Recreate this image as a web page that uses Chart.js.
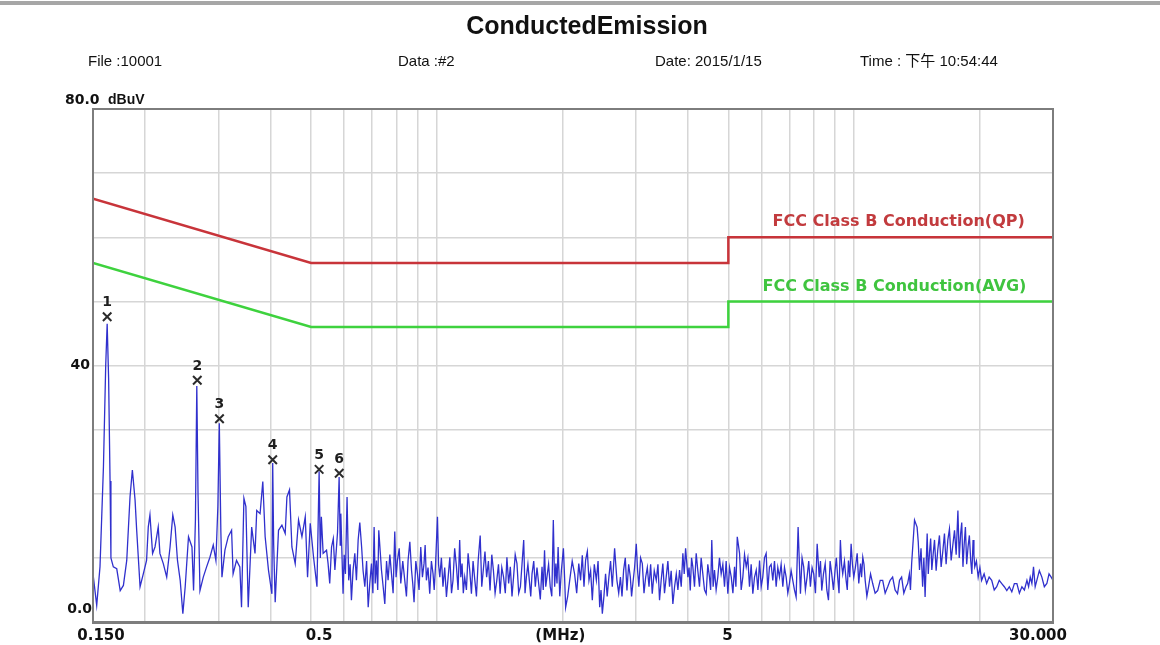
<!DOCTYPE html>
<html>
<head>
<meta charset="utf-8">
<script src="https://cdn.jsdelivr.net/npm/chart.js@4.4.1/dist/chart.umd.min.js"></script>
<style>
  html, body { margin: 0; padding: 0; background: #fff; }
  #wrap { width: 1160px; height: 645px; }
</style>
</head>
<body>
<div id="wrap"><canvas id="ce" width="1160" height="645"></canvas></div>
<script>
// measured trace, MHz / dBuV
const traceFreq = [
  0.1500, 0.1531, 0.1559, 0.1589, 0.1609, 0.1622, 0.1635, 0.1648, 0.1656, 0.1678,
  0.1710, 0.1743, 0.1774, 0.1807, 0.1840, 0.1864, 0.1892, 0.1909, 0.1945, 0.1980,
  0.2016, 0.2035, 0.2054, 0.2084, 0.2112, 0.2150, 0.2170, 0.2211, 0.2253, 0.2295,
  0.2330, 0.2360, 0.2391, 0.2427, 0.2463, 0.2495, 0.2541, 0.2590, 0.2613, 0.2640,
  0.2660, 0.2678, 0.2707, 0.2757, 0.2808, 0.2860, 0.2913, 0.2956, 0.2988, 0.3012,
  0.3038, 0.3056, 0.3107, 0.3164, 0.3223, 0.3250, 0.3312, 0.3373, 0.3405, 0.3450,
  0.3488, 0.3533, 0.3601, 0.3668, 0.3703, 0.3772, 0.3829, 0.3879, 0.3951, 0.4026,
  0.4044, 0.4066, 0.4100, 0.4176, 0.4255, 0.4333, 0.4374, 0.4437, 0.4496, 0.4579,
  0.4664, 0.4752, 0.4840, 0.4902, 0.4975, 0.5067, 0.5163, 0.5225, 0.5260, 0.5290,
  0.5342, 0.5443, 0.5490, 0.5596, 0.5700, 0.5784, 0.5835, 0.5870, 0.5890, 0.5963,
  0.6042, 0.6096, 0.6152, 0.6245, 0.6363, 0.6481, 0.6606, 0.6724, 0.6850, 0.6975,
  0.7078, 0.7171, 0.7262, 0.7371, 0.7508, 0.7645, 0.7790, 0.7932, 0.8051, 0.8200,
  0.8382, 0.8537, 0.8700, 0.8823, 0.8991, 0.9156, 0.9322, 0.9446, 0.9620, 0.9799,
  0.9930, 1.004, 1.017, 1.035, 1.055, 1.075, 1.094, 1.115, 1.135, 1.150,
  1.167, 1.189, 1.211, 1.234, 1.257, 1.271, 1.293, 1.317, 1.342, 1.367,
  1.393, 1.419, 1.446, 1.473, 1.501, 1.528, 1.557, 1.587, 1.616, 1.640,
  1.667, 1.692, 1.723, 1.755, 1.788, 1.813, 1.837, 1.871, 1.903, 1.930,
  1.954, 1.990, 2.012, 2.025, 2.037, 2.083, 2.140, 2.190, 2.233, 2.274,
  2.317, 2.360, 2.413, 2.458, 2.494, 2.539, 2.586, 2.635, 2.669, 2.703,
  2.756, 2.805, 2.857, 2.911, 2.952, 3.008, 3.051, 3.110, 3.168, 3.227,
  3.285, 3.359, 3.420, 3.483, 3.548, 3.614, 3.681, 3.751, 3.820, 3.890,
  3.949, 3.999, 4.052, 4.110, 4.187, 4.264, 4.343, 4.424, 4.505, 4.563,
  4.632, 4.717, 4.806, 4.895, 4.986, 5.081, 5.174, 5.252, 5.319, 5.416,
  5.518, 5.619, 5.723, 5.832, 5.940, 6.046, 6.160, 6.273, 6.390, 6.510,
  6.629, 6.753, 6.879, 7.005, 7.135, 7.268, 7.348, 7.443, 7.578, 7.720,
  7.864, 8.010, 8.163, 8.254, 8.372, 8.533, 8.688, 8.846, 9.012, 9.141,
  9.279, 9.400, 9.578, 9.701, 9.845, 9.990, 10.18, 10.37, 10.50, 10.64,
  10.84, 11.09, 11.40, 11.72, 12.05, 12.38, 12.72, 13.01, 13.33, 13.58,
  13.75, 13.97, 14.17, 14.36, 14.61, 14.81, 14.98, 15.17, 15.37, 15.60,
  15.88, 16.18, 16.48, 16.79, 17.10, 17.42, 17.75, 18.02, 18.25, 18.50,
  18.77, 19.05, 19.30, 19.48, 19.85, 20.23, 20.80, 21.39, 21.99, 22.61,
  23.25, 23.90, 24.58, 25.27, 25.98, 26.46, 26.94, 27.44, 28.21, 29.00,
  29.70, 30.00
];
const traceLevel = [
  7.5, 2.6, 8.6, 24.2, 40.0, 46.5, 38.0, 22.0, 10.0, 8.6,
  8.3, 4.9, 5.7, 9.6, 19.5, 23.7, 19.0, 14.3, 5.5, 7.5,
  9.6, 14.8, 16.7, 10.7, 11.7, 14.8, 10.7, 9.1, 7.0, 11.7,
  16.7, 14.8, 9.6, 6.5, 1.3, 5.5, 13.3, 11.7, 4.9, 16.0,
  36.8, 20.0, 4.9, 7.0, 8.6, 10.1, 12.0, 9.6, 18.0, 31.0,
  14.0, 7.0, 11.2, 13.3, 14.3, 7.5, 9.6, 8.6, 2.3, 19.3,
  18.0, 2.3, 14.8, 10.7, 17.4, 16.9, 21.9, 13.3, 8.1, 4.4,
  24.8, 12.0, 3.1, 14.3, 15.1, 13.8, 19.5, 20.6, 11.7, 9.1,
  15.9, 13.3, 16.4, 7.0, 15.4, 10.1, 5.5, 23.5, 10.0, 16.4,
  10.7, 11.2, 9.1, 11.7, 8.1, 14.0, 22.6, 12.0, 16.9, 4.4,
  7.5, 19.5, 6.5, 3.4, 10.7, 12.8, 11.7, 5.5, 2.3, 9.1,
  14.8, 9.6, 14.3, 8.1, 2.8, 6.5, 7.5, 14.1, 9.6, 6.0,
  6.5, 9.6, 8.1, 3.1, 7.5, 11.7, 9.1, 6.5, 4.4, 7.5,
  8.6, 16.4, 7.0, 5.5, 3.9, 10.1, 6.5, 8.6, 12.8, 9.1,
  7.0, 10.7, 4.4, 6.5, 9.6, 13.5, 8.1, 7.0, 4.9, 8.1,
  6.5, 4.4, 7.0, 10.1, 8.6, 7.0, 9.1, 5.5, 12.8, 7.0,
  6.5, 7.5, 5.5, 6.0, 8.6, 11.2, 7.0, 5.5, 15.9, 9.1,
  11.7, 8.1, 11.5, 7.0, 2.3, 6.5, 7.5, 9.1, 10.4, 9.6,
  6.5, 3.4, 6.5, 2.3, 1.3, 7.5, 7.0, 5.5, 11.5, 6.5,
  7.0, 8.1, 4.9, 7.0, 6.0, 12.2, 5.5, 9.1, 7.0, 5.5,
  4.4, 6.5, 3.4, 9.1, 7.0, 5.5, 2.8, 7.5, 8.1, 10.7,
  11.5, 7.0, 4.9, 8.6, 10.7, 5.5, 7.5, 4.4, 7.0, 12.8,
  8.1, 7.0, 7.5, 5.5, 4.4, 7.0, 8.6, 13.3, 10.7, 7.0,
  8.6, 5.5, 4.4, 8.1, 9.6, 7.0, 10.7, 8.6, 6.5, 5.5,
  7.0, 5.5, 7.0, 6.0, 6.5, 3.9, 14.8, 4.4, 8.6, 7.0,
  5.5, 7.5, 12.2, 7.0, 4.9, 9.1, 3.4, 7.5, 8.1, 7.0,
  12.8, 7.5, 6.5, 9.6, 12.2, 7.0, 10.7, 9.1, 10.1, 6.5,
  5.5, 6.0, 4.9, 6.5, 5.5, 7.0, 4.4, 7.0, 5.5, 7.5,
  9.1, 15.9, 14.8, 8.1, 5.5, 3.9, 13.8, 10.7, 8.1, 12.8,
  11.2, 8.6, 13.8, 12.8, 9.6, 14.3, 17.4, 13.8, 8.6, 14.8,
  11.7, 9.6, 12.8, 8.6, 7.0, 6.5, 6.0, 6.5, 5.5, 6.0,
  4.9, 4.7, 6.0, 5.5, 6.5, 7.0, 8.6, 6.5, 7.0, 6.0,
  7.0, 6.5
];
// in-between wiggles of the dense part of the sweep, MHz / dBuV
const fillFreq = [
  0.554, 0.565, 0.600, 0.620, 0.630, 0.642, 0.654, 0.666, 0.679, 0.691,
  0.703, 0.712, 0.722, 0.732, 0.744, 0.758, 0.772, 0.786, 0.799, 0.813,
  0.829, 0.846, 0.862, 0.876, 0.891, 0.907, 0.924, 0.938, 0.953, 0.971,
  0.986, 1.010, 1.026, 1.045, 1.065, 1.085, 1.104, 1.125, 1.142, 1.158,
  1.178, 1.200, 1.222, 1.245, 1.282, 1.305, 1.330, 1.355, 1.380, 1.406,
  1.432, 1.460, 1.487, 1.515, 1.542, 1.572, 1.601, 1.628, 1.654, 1.680,
  1.708, 1.739, 1.771, 1.800, 1.825, 1.854, 1.887, 1.917, 1.942, 1.972,
  2.060, 2.112, 2.165, 2.212, 2.254, 2.296, 2.338, 2.386, 2.436, 2.476,
  2.516, 2.562, 2.610, 2.652, 2.686, 2.730, 2.780, 2.831, 2.884, 2.931,
  2.980, 3.030, 3.080, 3.139, 3.197, 3.256, 3.322, 3.390, 3.451, 3.515,
  3.581, 3.647, 3.716, 3.785, 3.855, 3.919, 4.025, 4.081, 4.148, 4.225,
  4.303, 4.383, 4.464, 4.534, 4.597, 4.674, 4.761, 4.850, 4.940, 5.033,
  5.127, 5.213, 5.367, 5.467, 5.568, 5.671, 5.777, 5.886, 5.993, 6.103,
  6.216, 6.331, 6.450, 6.569, 6.691, 6.816, 6.942, 7.070, 7.201, 7.510,
  7.649, 7.792, 7.937, 8.086, 8.313, 8.452, 8.610, 8.767, 8.929, 9.076,
  9.210, 9.339, 9.489, 9.639, 9.773, 9.917, 10.08, 10.27, 10.43, 10.57,
  10.74, 10.96, 11.24, 11.56, 11.88, 12.21, 12.55, 12.86, 13.17, 13.45,
  13.66, 14.26, 14.48, 14.71, 15.07, 15.27, 15.48, 15.74, 16.03, 16.33,
  16.63, 16.94, 17.26, 17.58, 17.88, 18.13, 18.37, 18.63, 18.91, 19.17,
  19.39, 19.66, 20.04, 20.51, 21.09, 21.69, 22.30, 22.93, 23.57, 24.24,
  24.92, 25.62, 26.22, 26.70, 27.19, 27.82, 28.60, 29.35
];
const fillLevel = [
  6.0, 13.0, 10.5, 9.0, 8.0, 6.5, 15.5, 8.0, 9.5, 6.0,
  4.5, 6.0, 5.0, 11.0, 5.5, 9.5, 10.5, 4.5, 7.0, 11.5,
  9.5, 4.0, 12.5, 6.0, 9.5, 5.0, 7.0, 12.0, 8.5, 9.5,
  5.0, 9.0, 10.0, 8.5, 7.0, 4.5, 11.5, 5.0, 7.0, 4.5,
  5.0, 8.0, 9.5, 4.0, 5.5, 11.0, 9.5, 10.5, 4.5, 9.0,
  8.5, 4.5, 6.0, 4.0, 10.5, 4.5, 9.0, 4.5, 9.0, 4.0,
  9.5, 8.5, 3.5, 5.0, 5.5, 9.0, 4.0, 5.5, 6.0, 4.0,
  4.0, 9.5, 4.5, 6.5, 5.5, 11.0, 8.0, 9.0, 9.5, 5.0,
  4.0, 4.0, 9.5, 8.5, 9.0, 4.5, 4.0, 10.0, 9.0, 4.0,
  8.5, 8.0, 10.0, 4.5, 8.5, 9.0, 8.0, 9.0, 6.5, 4.5,
  9.5, 8.0, 5.5, 5.0, 5.5, 7.5, 8.5, 10.0, 5.5, 8.0,
  10.0, 5.0, 9.0, 5.0, 5.5, 5.0, 10.0, 9.0, 9.5, 8.5,
  4.5, 5.5, 5.0, 10.5, 10.0, 9.0, 7.0, 5.0, 5.5, 10.0,
  5.0, 9.0, 9.5, 8.5, 9.0, 8.5, 4.5, 8.0, 5.0, 10.0,
  5.0, 9.5, 8.5, 4.5, 9.5, 7.5, 5.0, 9.5, 5.0, 10.0,
  4.5, 9.0, 9.5, 5.0, 7.0, 9.0, 8.5, 6.0, 7.0, 9.0,
  4.0, 7.5, 4.5, 6.5, 4.5, 6.5, 5.0, 6.5, 4.5, 6.0,
  5.0, 12.5, 11.5, 10.0, 7.5, 13.0, 10.5, 8.0, 13.5, 11.0,
  9.0, 14.5, 12.0, 10.5, 10.0, 15.5, 12.0, 9.0, 13.5, 7.5,
  10.5, 9.5, 8.5, 7.5, 7.0, 5.0, 6.5, 5.5, 5.5, 6.0,
  4.5, 5.0, 5.5, 6.0, 5.5, 8.0, 5.5, 7.5
];

// FCC class B limit lines
const limitFreq = [0.15, 0.5, 5, 5, 30];
const qpLimit = [66, 56, 56, 60, 60];
const avgLimit = [56, 46, 46, 50, 50];

// peak markers
const markerFreq = [0.1622, 0.2667, 0.3015, 0.4044, 0.5225, 0.5838];
const markerLevel = [47.6, 37.7, 31.7, 25.3, 23.8, 23.2];
const markerLabel = ['1', '2', '3', '4', '5', '6'];

// axes
const xTickValues = [0.15, 0.2, 0.3, 0.4, 0.5, 0.6, 0.7, 0.8, 0.9, 1, 2, 3, 4, 5, 6, 7, 8, 9, 10, 20, 30];
const xTickLabels = ['0.150', '', '', '', '0.5', '', '', '', '', '', '(MHz)', '', '', '5', '', '', '', '', '', '', '30.000'];
const yMin = 0, yMax = 80, yStep = 10;

const titleText = 'ConductedEmission';
const headerText = ['File :10001', 'Data :#2', 'Date: 2015/1/15', 'Time : 下午 10:54:44'];
const qpLabel = 'FCC Class B Conduction(QP)';
const avgLabel = 'FCC Class B Conduction(AVG)';

const pairs = (xs, ys) => xs.map((x, i) => ({ x: x, y: ys[i] }));
const sweep = pairs(traceFreq, traceLevel).concat(pairs(fillFreq, fillLevel)).sort((p, q) => p.x - q.x);

const sheetPlugin = {
  id: 'sheet',
  beforeDraw(chart) {
    const c = chart.ctx;
    c.save();
    c.fillStyle = '#fff';
    c.fillRect(0, 0, chart.width, chart.height);
    c.restore();
  },
  afterDatasetsDraw(chart) {
    const c = chart.ctx;
    const xs = chart.scales.x, ys = chart.scales.y;
    c.save();
    c.fillStyle = '#1e1e1e';
    c.font = 'bold 14px "DejaVu Sans", sans-serif';
    c.textAlign = 'center';
    c.textBaseline = 'middle';
    markerFreq.forEach((f, i) => {
      c.fillText(markerLabel[i], xs.getPixelForValue(f), ys.getPixelForValue(markerLevel[i]) - 14);
    });
    // limit captions
    c.font = 'bold 16px "DejaVu Sans", sans-serif';
    c.textAlign = 'left';
    c.fillStyle = '#c23b3e';
    c.fillText(qpLabel, xs.getPixelForValue(6.38), ys.getPixelForValue(62.4));
    c.fillStyle = '#3fc43f';
    c.fillText(avgLabel, xs.getPixelForValue(6.04), ys.getPixelForValue(52.3));
    c.restore();
  },
  afterDraw(chart) {
    const c = chart.ctx, a = chart.chartArea;
    const xs = chart.scales.x, ys = chart.scales.y;
    c.save();
    // top rule
    c.fillStyle = '#a6a6a6';
    c.fillRect(0, 1, chart.width, 4);
    // plot frame
    c.strokeStyle = '#7d7d7d';
    c.lineWidth = 2;
    c.strokeRect(a.left, a.top, a.right - a.left, a.bottom - a.top);
    c.fillStyle = '#7d7d7d';
    c.fillRect(a.left - 1, a.bottom, a.right - a.left + 2, 2);
    // title
    c.fillStyle = '#111';
    c.textBaseline = 'middle';
    c.textAlign = 'center';
    c.font = 'bold 25px "Liberation Sans", Arial, sans-serif';
    c.fillText(titleText, 587, 27);
    // header line
    c.textAlign = 'left';
    c.font = '15px "Liberation Sans", "Noto Sans CJK SC", sans-serif';
    [88, 398, 655, 860].forEach((x, i) => c.fillText(headerText[i], x, 62));
    // y labels
    c.font = 'bold 14px "DejaVu Sans", sans-serif';
    c.fillText(yMax.toFixed(1), 65, 100);
    c.font = 'bold 14px "Liberation Sans", Arial, sans-serif';
    c.fillText('dBuV', 108, 100);
    c.font = 'bold 14px "DejaVu Sans", sans-serif';
    c.textAlign = 'right';
    c.fillText('40', 90, ys.getPixelForValue(40));
    c.fillText(yMin.toFixed(1), 92, ys.getPixelForValue(yMin) - 13);
    // x labels, nudged like the instrument print
    const nudge = { 0: 8, 4: 8, 10: -2, 13: -1, 20: -15 };
    c.textAlign = 'center';
    c.font = 'bold 15px "DejaVu Sans", sans-serif';
    xTickValues.forEach((v, i) => {
      if (!xTickLabels[i]) return;
      c.fillText(xTickLabels[i], xs.getPixelForValue(v) + (nudge[i] || 0), a.bottom + 14);
    });
    c.restore();
  }
};

new Chart(document.getElementById('ce'), {
  type: 'scatter',
  data: {
    datasets: [{
      label: 'Markers',
      data: pairs(markerFreq, markerLevel),
      showLine: false,
      pointStyle: 'crossRot',
      pointRadius: 6,
      borderColor: '#2b2b2b',
      borderWidth: 2,
      order: 0
    }, {
      label: 'QP limit',
      data: pairs(limitFreq, qpLimit),
      showLine: true,
      borderColor: '#c8343a',
      borderWidth: 2.5,
      pointRadius: 0,
      tension: 0,
      order: 1
    }, {
      label: 'AVG limit',
      data: pairs(limitFreq, avgLimit),
      showLine: true,
      borderColor: '#3ed23e',
      borderWidth: 2.5,
      pointRadius: 0,
      tension: 0,
      order: 1
    }, {
      label: 'Trace',
      data: sweep,
      showLine: true,
      borderColor: 'rgb(48, 48, 205)',
      borderWidth: 1.3,
      pointRadius: 0,
      tension: 0,
      order: 2
    }]
  },
  plugins: [sheetPlugin],
  options: {
    responsive: false,
    animation: false,
    layout: { padding: { left: 93, top: 109, right: 107, bottom: 23 } },
    plugins: {
      legend: { display: false },
      tooltip: { enabled: false }
    },
    scales: {
      x: {
        type: 'logarithmic',
        min: 0.15,
        max: 30,
        afterBuildTicks: (scale) => {
          scale.ticks = xTickValues.map(v => ({ value: v }));
        },
        grid: { color: '#d6d6d6', lineWidth: 1.5, drawTicks: false },
        border: { display: false },
        ticks: { display: false, autoSkip: false }
      },
      y: {
        min: yMin,
        max: yMax,
        grid: { color: '#d6d6d6', lineWidth: 1.5, drawTicks: false },
        border: { display: false },
        ticks: { stepSize: yStep, display: false }
      }
    }
  }
});
</script>
</body>
</html>
